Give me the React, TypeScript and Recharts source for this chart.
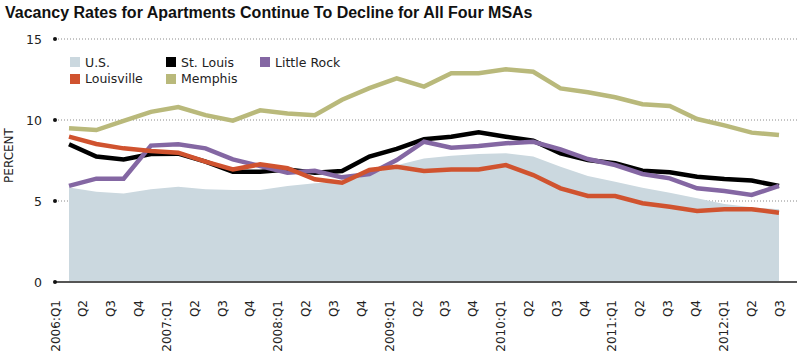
import React from 'react';
import {
    ComposedChart,
    Area,
    Line,
    XAxis,
    YAxis,
    CartesianGrid
} from 'recharts';

// quarter labels (x axis)
const quarters = [
    '2006:Q1', 'Q2', 'Q3', 'Q4',
    '2007:Q1', 'Q2', 'Q3', 'Q4',
    '2008:Q1', 'Q2', 'Q3', 'Q4',
    '2009:Q1', 'Q2', 'Q3', 'Q4',
    '2010:Q1', 'Q2', 'Q3', 'Q4',
    '2011:Q1', 'Q2', 'Q3', 'Q4',
    '2012:Q1', 'Q2', 'Q3'
];

// vacancy rates, percent
const usRate = [5.84, 5.57, 5.47, 5.72, 5.88, 5.72, 5.68, 5.68, 5.93, 6.09, 6.19, 6.6, 7.2, 7.63, 7.8, 7.9, 7.94, 7.74, 7.12, 6.54, 6.19, 5.82, 5.51, 5.17, 4.81, 4.61, 4.49];
const stLouis = [8.5, 7.74, 7.57, 7.9, 7.92, 7.43, 6.81, 6.81, 6.95, 6.75, 6.85, 7.74, 8.22, 8.81, 8.97, 9.24, 8.97, 8.72, 7.94, 7.53, 7.33, 6.87, 6.77, 6.5, 6.36, 6.26, 5.93];
const littleRock = [5.93, 6.38, 6.38, 8.42, 8.5, 8.25, 7.57, 7.16, 6.75, 6.87, 6.46, 6.67, 7.53, 8.66, 8.29, 8.4, 8.56, 8.66, 8.19, 7.59, 7.22, 6.67, 6.4, 5.78, 5.62, 5.37, 5.93];
const louisville = [8.97, 8.52, 8.25, 8.09, 7.98, 7.43, 6.95, 7.26, 7.02, 6.34, 6.13, 6.91, 7.12, 6.85, 6.95, 6.95, 7.22, 6.6, 5.78, 5.31, 5.31, 4.86, 4.65, 4.38, 4.49, 4.49, 4.28];
const memphis = [9.49, 9.38, 9.95, 10.5, 10.8, 10.3, 9.96, 10.6, 10.4, 10.3, 11.25, 11.97, 12.57, 12.06, 12.88, 12.88, 13.13, 12.98, 11.95, 11.71, 11.4, 10.97, 10.86, 10.06, 9.67, 9.22, 9.07];

const yTicks = [0, 5, 10, 15];

const COLORS = {
    us: '#cbd8df',
    stLouis: '#000000',
    littleRock: '#8467a3',
    louisville: '#d0532f',
    memphis: '#b9b97b'
};

const FONT = '"DejaVu Sans", sans-serif';

const data = quarters.map((q, i) => ({
    q,
    us: usRate[i],
    stLouis: stLouis[i],
    littleRock: littleRock[i],
    louisville: louisville[i],
    memphis: memphis[i]
}));

const legendRows = [
    [
        { key: 'us', name: 'U.S.' },
        { key: 'stLouis', name: 'St. Louis' },
        { key: 'littleRock', name: 'Little Rock' }
    ],
    [
        { key: 'louisville', name: 'Louisville' },
        { key: 'memphis', name: 'Memphis' }
    ]
];

const YTick = ({ x, y, payload }: any) => (
    <g>
        <circle cx={x} cy={y} r={2} fill="#111" />
        <text
            x={x - 13}
            y={y}
            dy={5}
            textAnchor="end"
            fontFamily={FONT}
            fontSize={12.5}
            fill="#222"
        >
            {payload.value}
        </text>
    </g>
);

const XTick = ({ x, y, payload, index }: any) => {
    // labels drift a little left of the points, more so at the start
    const shift = -14 + (14 * index) / (quarters.length - 1);
    return (
        <text
            transform={`translate(${x + shift + 4.5}, ${y + 10}) rotate(-90)`}
            textAnchor="end"
            fontFamily={FONT}
            fontSize={12}
            fill="#222"
        >
            {payload.value}
        </text>
    );
};

const LegendBox = () => (
    <div style={{ fontFamily: FONT, fontSize: 12.5, color: '#222' }}>
        {legendRows.map((row, r) => (
            <div key={r} style={{ display: 'flex', height: 16.5, alignItems: 'center' }}>
                {row.map((item, c) => (
                    <div
                        key={item.key}
                        style={{ display: 'flex', alignItems: 'center', width: c === 0 ? 96 : 94 }}
                    >
                        <span
                            style={{
                                width: 10,
                                height: 10,
                                marginRight: 5,
                                background: (COLORS as any)[item.key]
                            }}
                        />
                        <span>{item.name}</span>
                    </div>
                ))}
            </div>
        ))}
    </div>
);

export default function App() {
    return (
        <div style={{ position: 'relative', width: 800, height: 360, background: '#fff' }}>
            <style>{'body{margin:0}'}</style>
            <div style={{ position: 'absolute', left: 0, top: 0 }}>
                <ComposedChart
                    width={800}
                    height={360}
                    data={data}
                    margin={{ top: 39, right: 3, left: 0, bottom: 0 }}
                >
                    <CartesianGrid
                        vertical={false}
                        stroke="#8a8a8a"
                        strokeDasharray="1 2"
                    />
                    <XAxis
                        dataKey="q"
                        interval={0}
                        height={78}
                        tickLine={false}
                        axisLine={{ stroke: '#555', strokeWidth: 2 }}
                        padding={{ left: 14, right: 18 }}
                        tick={<XTick />}
                    />
                    <YAxis
                        domain={[0, 15]}
                        ticks={yTicks}
                        width={55}
                        axisLine={false}
                        tickLine={false}
                        tickSize={0}
                        tickMargin={0}
                        tick={<YTick />}
                        label={{
                            content: ({ viewBox }: any) => (
                                <text
                                    transform={`translate(${viewBox.x + 13}, ${viewBox.y + viewBox.height / 2 - 5}) rotate(-90)`}
                                    textAnchor="middle"
                                    fontFamily={FONT}
                                    fontSize={12}
                                    fill="#222"
                                >
                                    PERCENT
                                </text>
                            )
                        }}
                    />
                    <Area
                        type="linear"
                        dataKey="us"
                        name="U.S."
                        fill={COLORS.us}
                        fillOpacity={1}
                        stroke="none"
                        isAnimationActive={false}
                    />
                    <Line
                        type="linear"
                        dataKey="memphis"
                        name="Memphis"
                        stroke={COLORS.memphis}
                        strokeWidth={4.5}
                        dot={false}
                        isAnimationActive={false}
                    />
                    <Line
                        type="linear"
                        dataKey="stLouis"
                        name="St. Louis"
                        stroke={COLORS.stLouis}
                        strokeWidth={4.5}
                        dot={false}
                        isAnimationActive={false}
                    />
                    <Line
                        type="linear"
                        dataKey="littleRock"
                        name="Little Rock"
                        stroke={COLORS.littleRock}
                        strokeWidth={4.5}
                        dot={false}
                        isAnimationActive={false}
                    />
                    <Line
                        type="linear"
                        dataKey="louisville"
                        name="Louisville"
                        stroke={COLORS.louisville}
                        strokeWidth={4.5}
                        dot={false}
                        isAnimationActive={false}
                    />
                </ComposedChart>
            </div>
            <div
                style={{
                    position: 'absolute',
                    left: 5,
                    top: 4,
                    fontFamily: '"Liberation Sans", Arial, sans-serif',
                    fontWeight: 'bold',
                    fontSize: 16,
                    color: '#111',
                    whiteSpace: 'nowrap'
                }}
            >
                Vacancy Rates for Apartments Continue To Decline for All Four MSAs
            </div>
            <div style={{ position: 'absolute', left: 70, top: 54 }}>
                <LegendBox />
            </div>
        </div>
    );
}
